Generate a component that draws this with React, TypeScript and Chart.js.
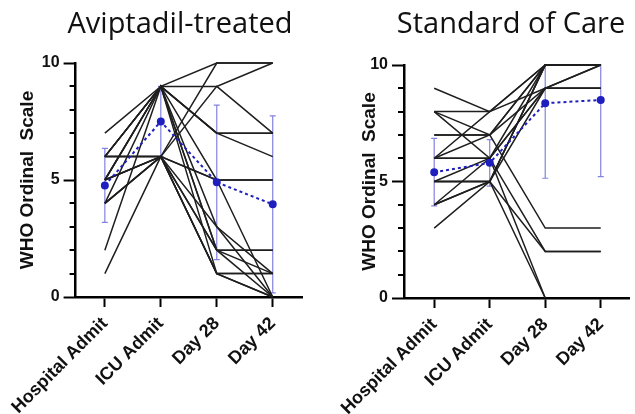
import React, { useEffect, useRef } from "react";
import { Chart, registerables } from "chart.js";

Chart.register(...registerables);

// ---- Data ----
const timepoints = ["Hospital Admit", "ICU Admit", "Day 28", "Day 42"];
const yMajorTicks = [0, 5, 10];
const yMinorTicks = [1, 2, 3, 4, 6, 7, 8, 9];

// Aviptadil-treated: individual patients [Hospital, ICU, Day 28, Day 42]
const aviptadilPatients: (number | null)[][] = [
  [7, 9, 9, 10],
  [6, 9, 10, 10],
  [6, 9, 7, 7],
  [6, 9, 7, 6],
  [5, 9, 7, 7],
  [5, 9, 5, 5],
  [4, 9, 2, 2],
  [2, 9, 1, 1],
  [6, 9, 3, 1],
  [5, 9, 2, 0],
  [6, 6, 10, 10],
  [6, 6, 9, 7],
  [5, 6, 5, 5],
  [4, 6, 5, 0],
  [1, 6, 2, 1],
  [5, 6, 1, 1],
  [4, 6, 1, 0],
  [6, 6, 1, 0],
  [5, 6, 3, 0],
  [4, 6, 2, 2],
];
const aviptadilMean = [4.77, 7.5, 4.9, 3.96];
const aviptadilSD = [1.58, 1.5, 3.3, 3.78];

// Standard of care: individual patients
const socPatients: (number | null)[][] = [
  [9, 8, 10, 10],
  [8, 8, 10, 10],
  [8, 7, 3, 3],
  [8, 6, 2, 2],
  [7, 7, 10, 10],
  [7, 7, 9, 9],
  [6, 6, 10, 10],
  [6, 7, 10, 10],
  [6, 8, 9, 10],
  [6, 6, 0, null],
  [5, 5, 10, 10],
  [5, 5, 9, 9],
  [5, 6, 9, 10],
  [5, 5, 2, 2],
  [4, 5, 10, 10],
  [4, 6, 9, 9],
  [3, 5, 10, 10],
  [4, 5, 0, null],
];
const socMean = [5.4, 5.8, 8.36, 8.5];
const socSD = [1.45, 1.0, 3.22, 3.29];

const FONT = "'Liberation Sans', Arial, Helvetica, sans-serif";
const LINE_COLOR = "#1e1e1e";
const MEAN_COLOR = "#1f1fbf";
const ERR_COLOR = "#8282e0";

const errorBarPlugin = {
  id: "errorBars",
  beforeDatasetsDraw(chart: any, _args: any, opts: any) {
    const { ctx, chartArea } = chart;
    const xs = chart.scales.x;
    const ys = chart.scales.y;
    const mean: number[] = opts.mean || [];
    const sd: number[] = opts.sd || [];
    ctx.save();
    ctx.beginPath();
    ctx.rect(chartArea.left, chartArea.top - 1, chartArea.right - chartArea.left, chartArea.bottom - chartArea.top + 2);
    ctx.clip();
    ctx.strokeStyle = ERR_COLOR;
    ctx.lineWidth = 1.2;
    mean.forEach((m, i) => {
      const px = xs.getPixelForValue(i);
      const top = ys.getPixelForValue(m + sd[i]);
      const bot = ys.getPixelForValue(m - sd[i]);
      ctx.beginPath();
      ctx.moveTo(px, top);
      ctx.lineTo(px, bot);
      ctx.moveTo(px - 3, top);
      ctx.lineTo(px + 3, top);
      ctx.moveTo(px - 3, bot);
      ctx.lineTo(px + 3, bot);
      ctx.stroke();
    });
    ctx.restore();
  },
};

const minorTickPlugin = {
  id: "minorTicks",
  afterDraw(chart: any) {
    const { ctx, chartArea } = chart;
    const ys = chart.scales.y;
    ctx.save();
    ctx.strokeStyle = "#000";
    ctx.lineWidth = 2;
    yMinorTicks.forEach((v) => {
      const py = Math.round(ys.getPixelForValue(v));
      ctx.beginPath();
      ctx.moveTo(chartArea.left - 6, py);
      ctx.lineTo(chartArea.left, py);
      ctx.stroke();
    });
    ctx.restore();
  },
};

type PanelProps = {
  width: number;
  yAxisWidth: number;
  yTitlePad: number;
  padTop: number;
  padRight: number;
  xAxisHeight: number;
  xMin: number;
  xMax: number;
  patients: (number | null)[][];
  mean: number[];
  sd: number[];
};

function Panel(p: PanelProps) {
  const ref = useRef<HTMLCanvasElement | null>(null);
  useEffect(() => {
    if (!ref.current) return;
    const datasets: any[] = [
      {
        data: p.mean.map((v, i) => ({ x: i, y: v })),
        borderColor: MEAN_COLOR,
        backgroundColor: MEAN_COLOR,
        borderWidth: 2,
        borderDash: [3, 3],
        pointRadius: 3,
        pointBackgroundColor: MEAN_COLOR,
        pointBorderColor: MEAN_COLOR,
        clip: false,
      },
      ...p.patients.map((row) => ({
        data: row.map((v, i) => ({ x: i, y: v })),
        borderColor: LINE_COLOR,
        borderWidth: 1.5,
        pointRadius: 0,
        spanGaps: false,
        clip: false,
      })),
    ];
    const chart = new Chart(ref.current, {
      type: "line",
      data: { datasets },
      options: {
        animation: false,
        responsive: false,
        layout: { padding: { top: p.padTop, right: p.padRight, left: 0, bottom: 0 } },
        plugins: {
          legend: { display: false },
          tooltip: { enabled: false },
          errorBars: { mean: p.mean, sd: p.sd },
        } as any,
        scales: {
          x: {
            type: "linear",
            min: p.xMin,
            max: p.xMax,
            afterBuildTicks: (s: any) => {
              s.ticks = timepoints.map((_, i) => ({ value: i }));
            },
            afterFit: (s: any) => {
              s.height = p.xAxisHeight;
            },
            ticks: {
              autoSkip: false,
              minRotation: 45,
              maxRotation: 45,
              padding: 6,
              color: "#111",
              font: { family: FONT, size: 18, weight: "bold" },
              callback: (v: any) => timepoints[Math.round(Number(v))] ?? "",
            },
            grid: {
              display: true,
              drawOnChartArea: false,
              drawTicks: true,
              tickLength: 10,
              tickWidth: 2,
              tickColor: "#000",
              color: "#000",
            },
            border: { display: true, color: "#000", width: 2.5 },
          },
          y: {
            type: "linear",
            min: 0,
            max: 10,
            afterBuildTicks: (s: any) => {
              s.ticks = yMajorTicks.map((v) => ({ value: v }));
            },
            afterFit: (s: any) => {
              s.width = p.yAxisWidth;
            },
            ticks: {
              padding: 4,
              color: "#111",
              font: { family: FONT, size: 16, weight: "bold" },
            },
            grid: {
              display: true,
              drawOnChartArea: false,
              drawTicks: true,
              tickLength: 12,
              tickWidth: 2,
              tickColor: "#000",
              color: "#000",
            },
            border: { display: true, color: "#000", width: 2.5 },
            title: {
              display: true,
              text: "WHO Ordinal  Scale",
              color: "#111",
              font: { family: FONT, size: 19, weight: "bold" },
              padding: { top: p.yTitlePad, bottom: 0 },
            },
          },
        },
      },
      plugins: [errorBarPlugin, minorTickPlugin],
    } as any);
    return () => chart.destroy();
  }, []);
  return <canvas ref={ref} width={p.width} height={414} style={{ display: "block", width: p.width, height: 414 }} />;
}

const titleStyle: React.CSSProperties = {
  position: "absolute",
  top: 7,
  width: 300,
  textAlign: "center",
  fontFamily: "'Open Sans', sans-serif",
  fontSize: 29,
  lineHeight: "29px",
  color: "#111",
  whiteSpace: "nowrap",
};

export default function App() {
  return (
    <div style={{ position: "absolute", left: 0, top: 0, width: 635, height: 414, background: "#fff", overflow: "hidden" }}>
      <div style={{ position: "absolute", left: 0, top: 0 }}>
        <Panel
          width={317}
          yAxisWidth={70}
          yTitlePad={11}
          padTop={63}
          padRight={15}
          xAxisHeight={117}
          xMin={-0.523}
          xMax={3.523}
          patients={aviptadilPatients}
          mean={aviptadilMean}
          sd={aviptadilSD}
        />
      </div>
      <div style={{ position: "absolute", left: 317, top: 0 }}>
        <Panel
          width={318}
          yAxisWidth={87}
          yTitlePad={41}
          padTop={65}
          padRight={0}
          xAxisHeight={116}
          xMin={-0.544}
          xMax={3.509}
          patients={socPatients}
          mean={socMean}
          sd={socSD}
        />
      </div>
      <div style={{ ...titleStyle, left: 30 }}>Aviptadil-treated</div>
      <div style={{ ...titleStyle, left: 361 }}>Standard of Care</div>
    </div>
  );
}
